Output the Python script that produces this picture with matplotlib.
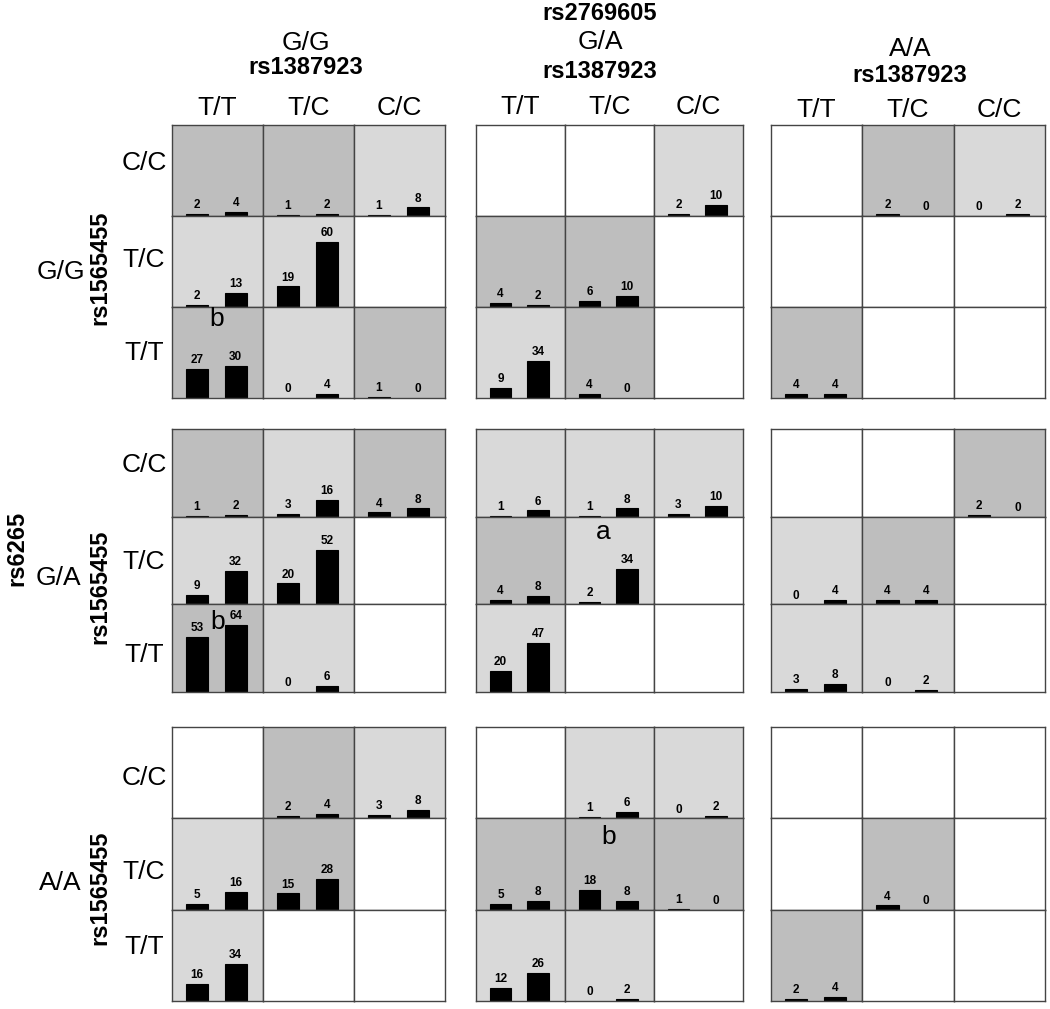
import matplotlib.pyplot as plt

plt.rcParams['font.family'] = ['Liberation Sans', 'DejaVu Sans']

W, H = 1050, 1009

# genotype labels
rs1387923_cols = ["T/T", "T/C", "C/C"]
rs1565455_rows = ["C/C", "T/C", "T/T"]
rs2769605_groups = ["G/G", "G/A", "A/A"]
rs6265_groups = ["G/G", "G/A", "A/A"]

# cell shading: 0 = white, 1 = light grey, 2 = dark grey
# rows: rs1565455 C/C, T/C, T/T ; cols: rs1387923 T/T, T/C, C/C
shade_gg_gg = [[2, 2, 1], [1, 1, 0], [2, 1, 2]]
shade_gg_ga = [[0, 0, 1], [2, 2, 0], [1, 2, 0]]
shade_gg_aa = [[0, 2, 1], [0, 0, 0], [2, 0, 0]]
shade_ga_gg = [[2, 1, 2], [1, 1, 0], [2, 1, 0]]
shade_ga_ga = [[1, 1, 1], [2, 1, 0], [1, 0, 0]]
shade_ga_aa = [[0, 0, 2], [1, 2, 0], [1, 1, 0]]
shade_aa_gg = [[0, 2, 1], [1, 2, 0], [1, 0, 0]]
shade_aa_ga = [[0, 1, 1], [2, 2, 2], [1, 1, 0]]
shade_aa_aa = [[0, 0, 0], [0, 2, 0], [2, 0, 0]]

# two counts per cell, None = empty cell
counts_gg_gg = [[(2, 4), (1, 2), (1, 8)],
                [(2, 13), (19, 60), None],
                [(27, 30), (0, 4), (1, 0)]]
counts_gg_ga = [[None, None, (2, 10)],
                [(4, 2), (6, 10), None],
                [(9, 34), (4, 0), None]]
counts_gg_aa = [[None, (2, 0), (0, 2)],
                [None, None, None],
                [(4, 4), None, None]]
counts_ga_gg = [[(1, 2), (3, 16), (4, 8)],
                [(9, 32), (20, 52), None],
                [(53, 64), (0, 6), None]]
counts_ga_ga = [[(1, 6), (1, 8), (3, 10)],
                [(4, 8), (2, 34), None],
                [(20, 47), None, None]]
counts_ga_aa = [[None, None, (2, 0)],
                [(0, 4), (4, 4), None],
                [(3, 8), (0, 2), None]]
counts_aa_gg = [[None, (2, 4), (3, 8)],
                [(5, 16), (15, 28), None],
                [(16, 34), None, None]]
counts_aa_ga = [[None, (1, 6), (0, 2)],
                [(5, 8), (18, 8), (1, 0)],
                [(12, 26), (0, 2), None]]
counts_aa_aa = [[None, None, None],
                [None, (4, 0), None],
                [(2, 4), None, None]]

shades = [[shade_gg_gg, shade_gg_ga, shade_gg_aa],
          [shade_ga_gg, shade_ga_ga, shade_ga_aa],
          [shade_aa_gg, shade_aa_ga, shade_aa_aa]]
counts = [[counts_gg_gg, counts_gg_ga, counts_gg_aa],
          [counts_ga_gg, counts_ga_ga, counts_ga_aa],
          [counts_aa_gg, counts_aa_ga, counts_aa_aa]]

# letters marked in some cells: (panel row, panel col, row, col) -> letter
letters = {(0, 0, 2, 0): "b", (1, 0, 2, 0): "b",
           (1, 1, 1, 1): "a", (2, 1, 1, 1): "b"}
letter_pos = {(0, 0, 2, 0): (0.49, 0.87), (1, 0, 2, 0): (0.50, 0.80),
              (1, 1, 1, 1): (0.43, 0.83), (2, 1, 1, 1): (0.49, 0.80)}

shade_colors = {0: "white", 1: "#d9d9d9", 2: "#bebebe"}

# panel boxes in pixels
panel_x = [(172, 445), (476, 743), (771, 1045)]
panel_y = [(125, 398), (429, 692), (727, 1001)]

fig = plt.figure(figsize=(W / 100, H / 100), dpi=100)


def fx(x):
    return x / W


def fy(y):
    return 1 - y / H


for pr in range(3):
    for pc in range(3):
        x0, x1 = panel_x[pc]
        y0, y1 = panel_y[pr]
        cw = (x1 - x0) / 3
        ch = (y1 - y0) / 3
        for r in range(3):
            for c in range(3):
                left = x0 + c * cw
                top = y0 + r * ch
                ax = fig.add_axes([fx(left), fy(top + ch), cw / W, ch / H])
                ax.set_facecolor(shade_colors[shades[pr][pc][r][c]])
                ax.set_xlim(0, 1)
                ax.set_ylim(0, 84)
                ax.set_xticks([])
                ax.set_yticks([])
                for sp in ax.spines.values():
                    sp.set_color("#444444")
                    sp.set_linewidth(1.0)
                vals = counts[pr][pc][r][c]
                if vals is not None:
                    xs = [0.275, 0.70]
                    lws = [0.8 if v > 0 else 0 for v in vals]
                    ax.bar(xs, vals, width=0.245, color="black",
                           edgecolor="black", linewidth=lws)
                    for xv, v in zip(xs, vals):
                        ax.annotate(str(v), (xv, v), xytext=(0, 2),
                                    textcoords="offset points", ha="center",
                                    va="bottom", fontsize=8.5, fontweight="bold")
                key = (pr, pc, r, c)
                if key in letters:
                    lx, ly = letter_pos[key]
                    ax.text(lx, ly, letters[key], transform=ax.transAxes,
                            ha="center", va="center", fontsize=19)

# column headers
group_x = [306, 600, 910]
group_y = [43, 42, 49]
rs_y = [68, 72, 76]
col_y = [108, 107, 110]
fig.text(fx(600), fy(14), "rs2769605", ha="center", va="center",
         fontsize=17, fontweight="bold")
for pc in range(3):
    fig.text(fx(group_x[pc]), fy(group_y[pc]), rs2769605_groups[pc],
             ha="center", va="center", fontsize=19)
    fig.text(fx(group_x[pc]), fy(rs_y[pc]), "rs1387923",
             ha="center", va="center", fontsize=17, fontweight="bold")
    x0, x1 = panel_x[pc]
    cw = (x1 - x0) / 3
    for c in range(3):
        fig.text(fx(x0 + (c + 0.5) * cw), fy(col_y[pc]), rs1387923_cols[c],
                 ha="center", va="center", fontsize=19)

# row headers
row_label_y = [[163, 260, 353], [465, 562, 655], [778, 872, 947]]
rs_row_y = [268, 587, 888]
group_row = [(61, 272), (58, 578), (60, 883)]
for pr in range(3):
    for r in range(3):
        fig.text(fx(144), fy(row_label_y[pr][r]), rs1565455_rows[r],
                 ha="center", va="center", fontsize=19)
    fig.text(fx(100), fy(rs_row_y[pr]), "rs1565455", rotation=90,
             ha="center", va="center", fontsize=17, fontweight="bold")
    gx, gy = group_row[pr]
    fig.text(fx(gx), fy(gy), rs6265_groups[pr], ha="center", va="center",
             fontsize=19)
fig.text(fx(17), fy(548), "rs6265", rotation=90, ha="center", va="center",
         fontsize=17, fontweight="bold")

fig.savefig("out.png", dpi=100, facecolor="white")
